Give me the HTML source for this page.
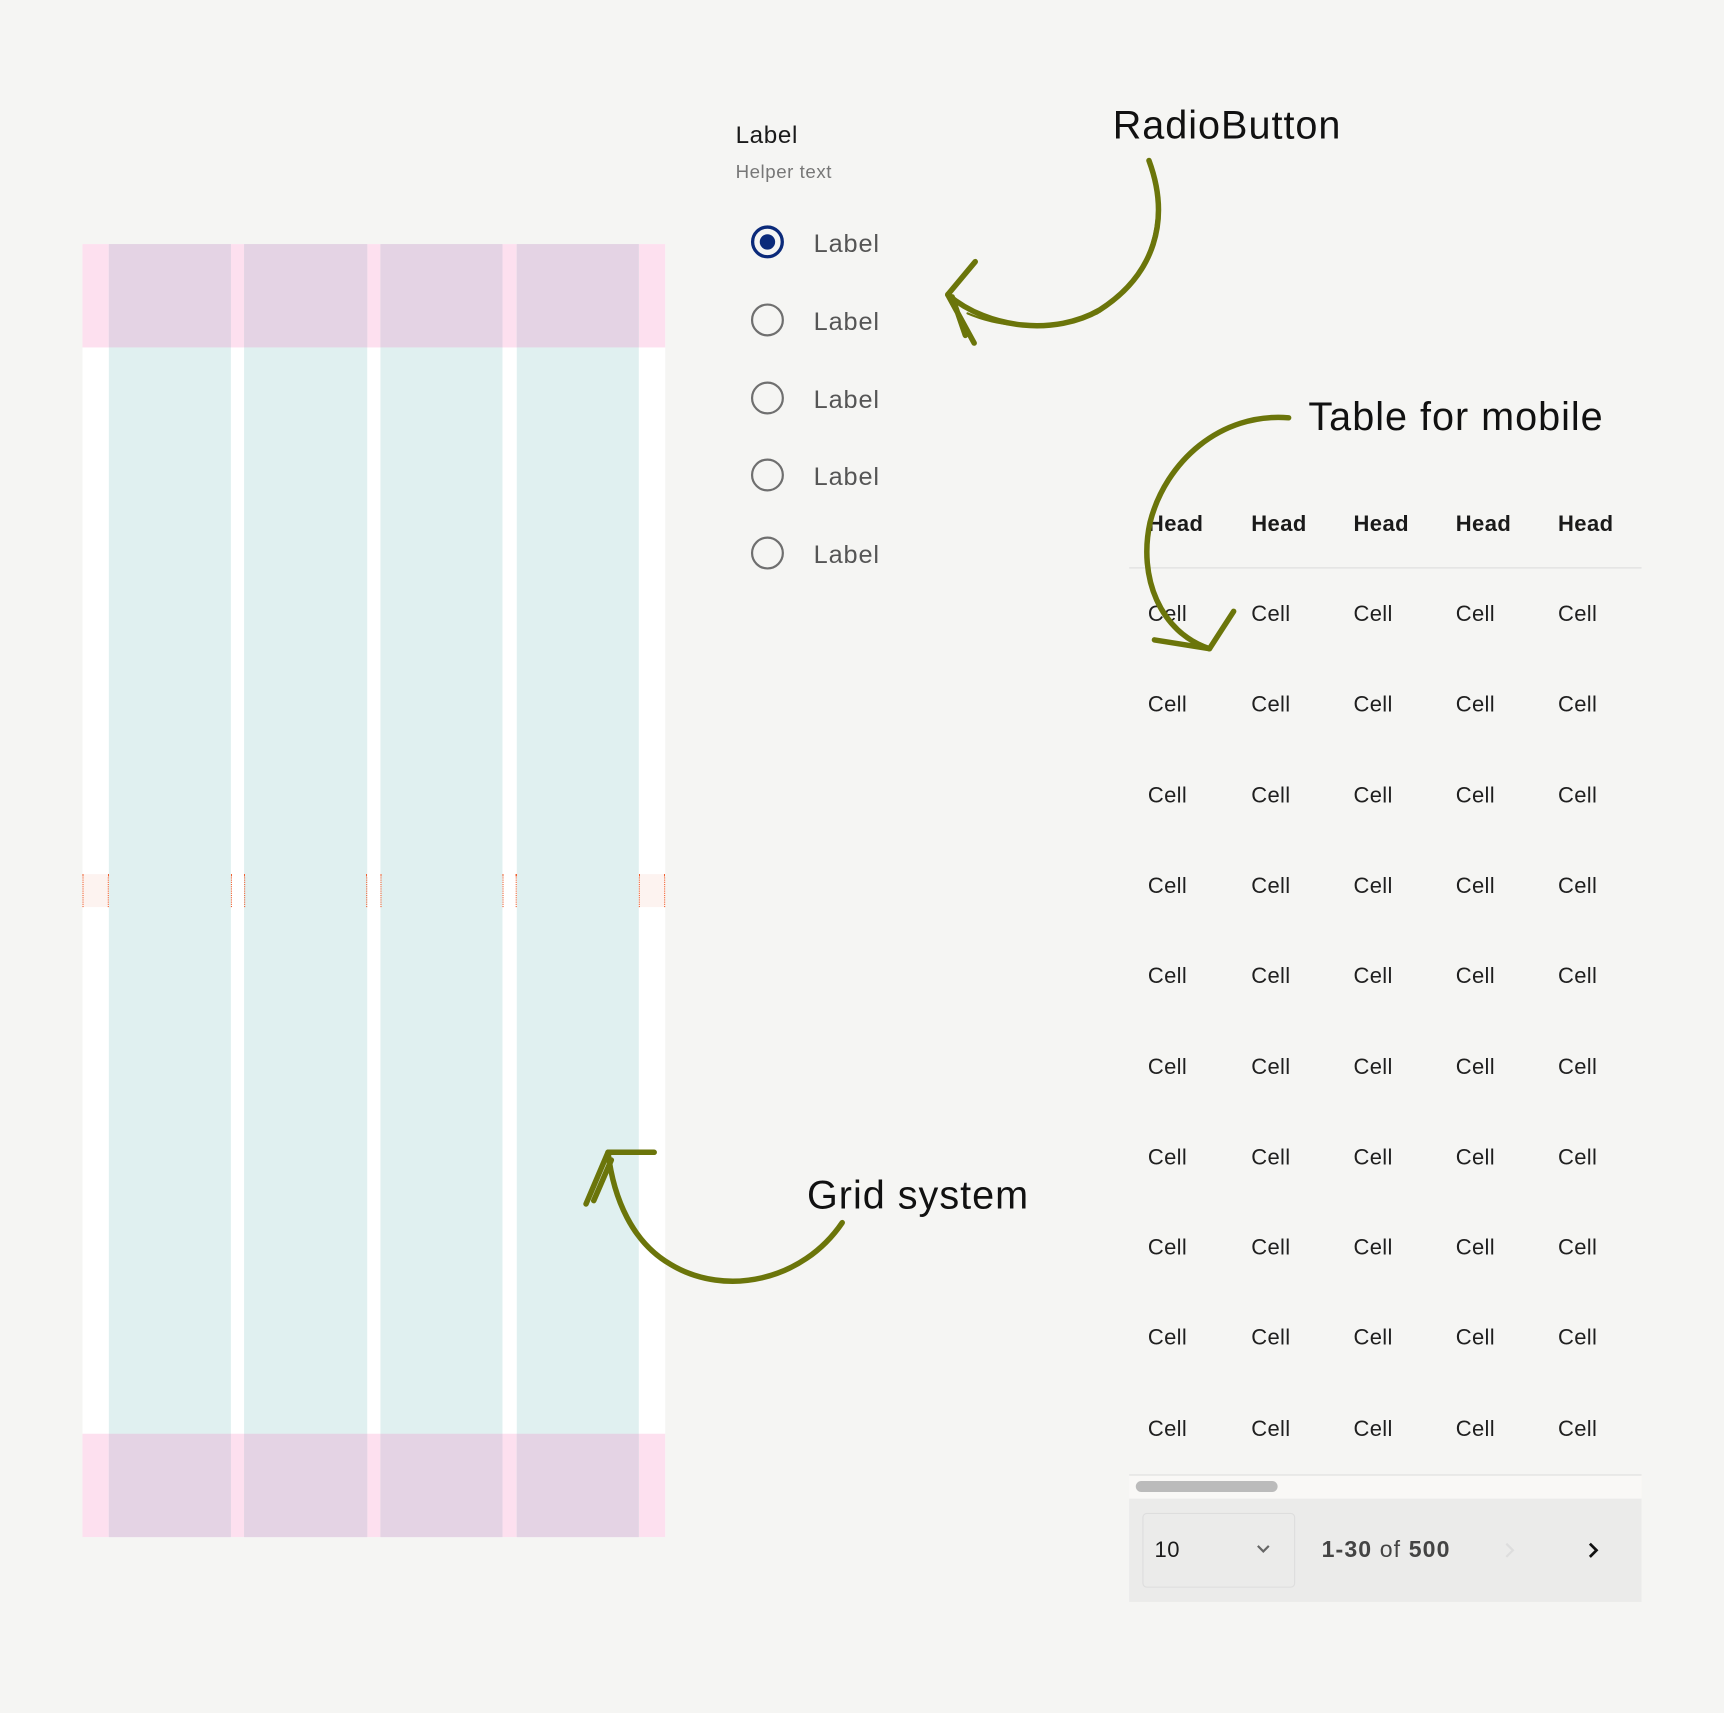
<!DOCTYPE html>
<html><head><meta charset="utf-8"><style>
html,body{margin:0;padding:0;background:#f5f5f3;width:1724px;height:1713px;overflow:hidden}
#w{position:absolute;left:0;top:0;width:1568px;height:1558px;transform:scale(1.0995);transform-origin:0 0;font-family:"Liberation Sans",sans-serif}
.a{position:absolute}
.t{position:absolute;white-space:nowrap}
.rb{position:absolute;width:30px;height:30px;border:2.5px solid #6f6f6f;border-radius:50%;box-sizing:border-box}
.rl{position:absolute;font-size:23px;color:#555;letter-spacing:0.8px}
.h{position:absolute;font-size:20px;font-weight:bold;color:#1a1a1a;letter-spacing:0.4px}
.c{position:absolute;font-size:20px;color:#1f1f1f;letter-spacing:0.3px}
.ti{position:absolute;white-space:nowrap;font-size:36px;color:#111;letter-spacing:0.9px}
</style></head><body><div id="w">
<!-- grid -->
<div class="a" style="left:75px;top:222px;width:530px;height:1176px;background:#fff"></div>
<div class="a" style="left:75px;top:222px;width:530px;height:94px;background:#fde0ef"></div>
<div class="a" style="left:75px;top:1304px;width:530px;height:94px;background:#fde0ef"></div>
<div class="a" style="left:99px;top:222px;width:111px;height:1176px;background:#e0f0f0"></div>
<div class="a" style="left:222px;top:222px;width:112px;height:1176px;background:#e0f0f0"></div>
<div class="a" style="left:346px;top:222px;width:111px;height:1176px;background:#e0f0f0"></div>
<div class="a" style="left:470px;top:222px;width:111px;height:1176px;background:#e0f0f0"></div>
<div class="a" style="left:99px;top:222px;width:111px;height:94px;background:#e4d3e4"></div>
<div class="a" style="left:222px;top:222px;width:112px;height:94px;background:#e4d3e4"></div>
<div class="a" style="left:346px;top:222px;width:111px;height:94px;background:#e4d3e4"></div>
<div class="a" style="left:470px;top:222px;width:111px;height:94px;background:#e4d3e4"></div>
<div class="a" style="left:99px;top:1304px;width:111px;height:94px;background:#e4d3e4"></div>
<div class="a" style="left:222px;top:1304px;width:112px;height:94px;background:#e4d3e4"></div>
<div class="a" style="left:346px;top:1304px;width:111px;height:94px;background:#e4d3e4"></div>
<div class="a" style="left:470px;top:1304px;width:111px;height:94px;background:#e4d3e4"></div>
<div class="a" style="left:75px;top:795px;width:24px;height:30px;background:#fdf3f0;border-left:1px dotted #f06030;border-right:1px dotted #f06030;box-sizing:border-box"></div>
<div class="a" style="left:210px;top:795px;width:13px;height:30px;border-left:1px dotted #f06030;border-right:1px dotted #f06030;box-sizing:border-box"></div>
<div class="a" style="left:333px;top:795px;width:14px;height:30px;border-left:1px dotted #f06030;border-right:1px dotted #f06030;box-sizing:border-box"></div>
<div class="a" style="left:457px;top:795px;width:13px;height:30px;border-left:1px dotted #f06030;border-right:1px dotted #f06030;box-sizing:border-box"></div>
<div class="a" style="left:581px;top:795px;width:24px;height:30px;background:#fdf3f0;border-left:1px dotted #f06030;border-right:1px dotted #f06030;box-sizing:border-box"></div>

<!-- radio -->
<div class="t" style="left:669px;top:110px;font-size:22px;color:#1a1a1a;letter-spacing:0.6px">Label</div>
<div class="t" style="left:669px;top:147px;font-size:17px;color:#777;letter-spacing:0.5px">Helper text</div>
<div class="rb" style="left:683px;top:205px;border:3px solid #0b2a7a"></div>
<div class="a" style="left:691px;top:213px;width:14px;height:14px;border-radius:50%;background:#0b2a7a"></div>
<div class="rl" style="left:740px;top:208px">Label</div>
<div class="rb" style="left:683px;top:276px"></div><div class="rl" style="left:740px;top:279px">Label</div>
<div class="rb" style="left:683px;top:347px"></div><div class="rl" style="left:740px;top:350px">Label</div>
<div class="rb" style="left:683px;top:417px"></div><div class="rl" style="left:740px;top:420px">Label</div>
<div class="rb" style="left:683px;top:488px"></div><div class="rl" style="left:740px;top:491px">Label</div>

<div class="ti" style="left:1012px;top:93px">RadioButton</div>
<div class="ti" style="left:1190px;top:358px">Table for mobile</div>
<div class="ti" style="left:734px;top:1066px">Grid system</div>

<!-- table -->
<div class="h" style="left:1044px;top:466px">Head</div>
<div class="h" style="left:1138px;top:466px">Head</div>
<div class="h" style="left:1231px;top:466px">Head</div>
<div class="h" style="left:1324px;top:466px">Head</div>
<div class="h" style="left:1417px;top:466px">Head</div>
<div class="a" style="left:1027px;top:516px;width:466px;height:1px;background:#ddd"></div>
<div id="cells"></div>
<div class="a" style="left:1027px;top:1341px;width:466px;height:22px;background:#f9f8f6;border-top:1px solid #ddd"></div>
<div class="a" style="left:1033px;top:1347px;width:129px;height:10px;border-radius:5px;background:#bbb"></div>
<div class="a" style="left:1027px;top:1363px;width:466px;height:94px;background:#ebebea"></div>
<div class="a" style="left:1039px;top:1376px;width:139px;height:68px;border:1px solid #ddd;border-radius:4px;box-sizing:border-box"></div>
<div class="t" style="left:1050px;top:1399px;font-size:20px;color:#1a1a1a;letter-spacing:0.5px">10</div>
<svg class="a" style="left:1142px;top:1404px" width="14" height="10"><path d="M2 2 L7 7 L12 2" stroke="#666" stroke-width="2" fill="none"/></svg>
<div class="t" style="left:1202px;top:1398px;font-size:21px;color:#444;letter-spacing:1px"><b>1-30</b> of <b>500</b></div>
<svg class="a" style="left:1367px;top:1402px" width="12" height="16"><path d="M3 2 L9 8 L3 14" stroke="#ddd" stroke-width="2" fill="none"/></svg>
<svg class="a" style="left:1443px;top:1402px" width="12" height="16"><path d="M3 2 L9 8 L3 14" stroke="#111" stroke-width="2.5" fill="none"/></svg>

<!-- arrows -->
<svg class="a" style="left:0;top:0" width="1568" height="1558">
<g stroke="#6b750a" fill="none" stroke-linecap="round" stroke-width="5">
<path d="M1045 146 C1065 200 1050 250 1000 282 C960 305 900 300 862 268"/>
<path d="M1047 150 C1062 205 1046 252 998 285 C955 302 910 298 880 285" stroke-width="2"/>
<path d="M862 268 L887 238 M862 268 L886 312 M866 270 L878 305"/>
<path d="M1172 380 C1110 375 1060 420 1046 475 C1035 525 1055 575 1100 590"/>
<path d="M1100 590 L1050 582 M1100 590 L1122 556"/>
<path d="M766 1112 C730 1165 660 1180 610 1150 C575 1130 558 1090 553 1048"/>
<path d="M553 1048 L595 1048 M553 1048 L533 1095 M556 1055 L540 1092"/>
</g></svg>
</div>
<script>
var h='',xs=[1044,1138,1231,1324,1417];
for(var r=0;r<10;r++)for(var i=0;i<5;i++)h+='<div class="c" style="left:'+xs[i]+'px;top:'+(548+r*82.3)+'px">Cell</div>';
document.getElementById('cells').outerHTML=h;
</script>
</body></html>
